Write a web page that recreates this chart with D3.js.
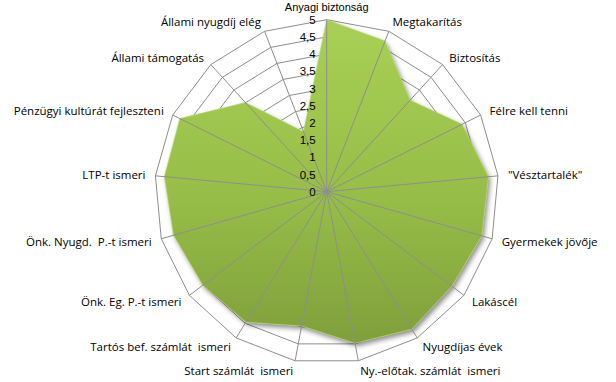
<!DOCTYPE html>
<html><head><meta charset="utf-8">
<script src="https://cdn.jsdelivr.net/npm/d3@7"></script>
<style>
html,body{margin:0;padding:0;background:#fff;}
svg{display:block;}
text{font-family:"Open Sans","Noto Sans",sans-serif;fill:#000;white-space:pre;}
text.tick, text.top{font-family:"Liberation Sans",Arial,sans-serif;}
</style></head>
<body>
<svg id="c" width="616" height="382"></svg>
<script>
const categories = ["Anyagi biztonság","Megtakarítás","Biztosítás","Félre kell tenni","\"Vésztartalék\"","Gyermekek jövője","Lakáscél","Nyugdíjas évek","Ny.-előtak. számlát  ismeri","Start számlát  ismeri","Tartós bef. számlát  ismeri","Önk. Eg. P.-t ismeri","Önk. Nyugd.  P.-t ismeri","LTP-t ismeri","Pénzügyi kultúrát fejleszteni","Állami támogatás","Állami nyugdíj elég"];
const values = [5, 4.7, 3.6, 4.4, 4.72, 4.69, 4.56, 4.7, 4.48, 3.97, 4.46, 4.51, 4.63, 4.74, 4.77, 3.51, 1.87];
const tickValues = [0,0.5,1,1.5,2,2.5,3,3.5,4,4.5,5];
const tickLabels = ["0","0,5","1","1,5","2","2,5","3","3,5","4","4,5","5"];

const svg = d3.select("#c");
const cx = 326.7, cy = 191.7, R = 172;
const n = categories.length;
const r = d3.scaleLinear().domain([0,5]).range([0,R]);
const ang = d3.scaleLinear().domain([0,n]).range([0,2*Math.PI]);

const defs = svg.append("defs");
const grad = defs.append("linearGradient").attr("id","g").attr("x1",0).attr("y1",0).attr("x2",0).attr("y2",1);
grad.append("stop").attr("offset","0%").attr("stop-color","#a9d054");
grad.append("stop").attr("offset","55%").attr("stop-color","#97bd48");
grad.append("stop").attr("offset","100%").attr("stop-color","#809f3b");
const f = defs.append("filter").attr("id","sh").attr("x","-10%").attr("y","-10%").attr("width","120%").attr("height","120%");
f.append("feDropShadow").attr("dx",2).attr("dy",3).attr("stdDeviation",2.5).attr("flood-color","#000").attr("flood-opacity",0.45);

const g = svg.append("g").attr("transform",`translate(${cx},${cy})`);

// rings
const ringLine = d3.lineRadial().curve(d3.curveLinearClosed);
tickValues.slice(1).forEach(t => {
  g.append("path")
    .attr("d", ringLine(d3.range(n).map(i => [ang(i), r(t)])))
    .attr("fill","none").attr("stroke","#8e8e8e").attr("stroke-width",1);
});

// data polygon
const area = d3.lineRadial().angle((d,i)=>ang(i)).radius(d=>r(d)).curve(d3.curveLinearClosed);
g.append("path").attr("d", area(values))
  .attr("fill","url(#g)").attr("filter","url(#sh)");
g.append("path").attr("d", area(values))
  .attr("fill","none").attr("stroke","#b8dc6a").attr("stroke-width",1).attr("stroke-opacity",0.6);

// spokes
d3.range(n).forEach(i => {
  const a = ang(i);
  g.append("line").attr("x1",0).attr("y1",0)
    .attr("x2", r(5)*Math.sin(a)).attr("y2", -r(5)*Math.cos(a))
    .attr("stroke","#8e8e8e").attr("stroke-width",1);
});

// tick labels
g.selectAll("text.tick").data(tickValues).enter().append("text")
  .attr("class","tick")
  .attr("x",-11).attr("y",d=>-r(d))
  .attr("text-anchor","end").attr("dominant-baseline","central")
  .attr("font-size",11.5)
  .text((d,i)=>tickLabels[i]);

// category labels
categories.forEach((c,i) => {
  const a = ang(i);
  const s = Math.sin(a), co = Math.cos(a);
  const rr = R + 10;
  let x = rr*s, y = -rr*co;
  const isTop = Math.abs(s) < 0.05 && co > 0;
  let anchor = Math.abs(s) < 0.05 ? "middle" : (s > 0 ? "start" : "end");
  if (isTop) y -= 3;
  g.append("text").attr("class", isTop ? "top" : "cat")
    .attr("x",x).attr("y",y)
    .attr("text-anchor",anchor).attr("dominant-baseline","central")
    .attr("font-size", isTop ? 11 : 11.5)
    .text(c);
});
</script>
</body></html>
